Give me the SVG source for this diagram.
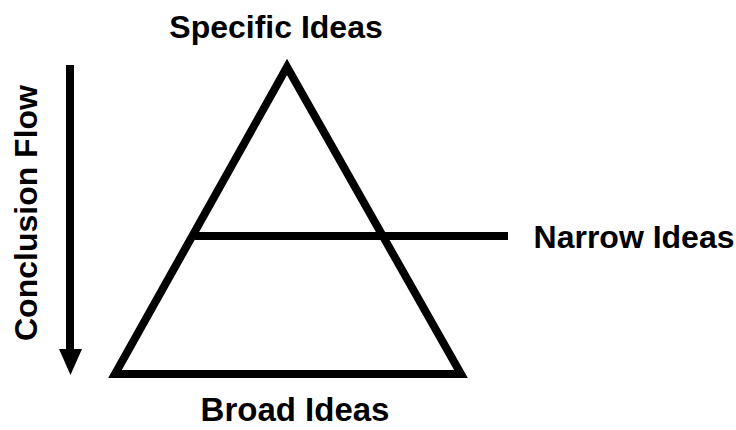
<svg xmlns="http://www.w3.org/2000/svg" width="736" height="430" viewBox="0 0 736 430">
<defs>
<style>
.lbl{font-family:"Liberation Sans",Arial,sans-serif;font-weight:bold;font-size:32px;fill:#000}
.ln{stroke:#000;stroke-width:8;fill:none}
</style>
</defs>
<rect width="736" height="430" fill="#fff"/>
<g id="triangle">
<polygon class="ln" points="287,67 115,374 461,374" stroke-linejoin="miter" stroke-miterlimit="10"/>
</g>
<g id="connectors">
<line class="ln" x1="195" y1="236" x2="508" y2="236"/>
<path d="M70,65 L70,350" stroke="#000" stroke-width="8"/>
<path d="M59,349 L82,349 L70.5,375 Z" fill="#000"/>
</g>
<g id="specific"><text class="lbl" x="276" y="38" text-anchor="middle">Specific Ideas</text></g>
<g id="narrow"><text class="lbl" x="634" y="248" text-anchor="middle">Narrow Ideas</text></g>
<g id="broad"><text class="lbl" x="295" y="421" text-anchor="middle" style="font-size:33px">Broad Ideas</text></g>
<g id="flow"><text class="lbl" x="0" y="0" text-anchor="middle" transform="translate(37,213) rotate(-90)">Conclusion Flow</text></g>
</svg>
